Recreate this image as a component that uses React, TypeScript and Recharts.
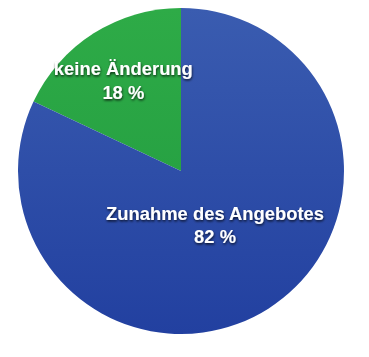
import React from 'react';
import { PieChart, Pie, Cell } from 'recharts';

const categories = ['keine Änderung', 'Zunahme des Angebotes'];
const shares = [18, 82];
const sliceColors = ['url(#greenFill)', 'url(#blueFill)'];
// how far out along the mid angle each label sits (fraction of radius)
const labelRadius = [0.66, 0.39];

const data = categories.map((name, i) => ({ name, value: shares[i] }));

const RADIAN = Math.PI / 180;

const renderLabel = (props: any) => {
  const { cx, cy, midAngle, outerRadius, index, name, value } = props;
  const r = outerRadius * labelRadius[index];
  const x = cx + r * Math.cos(-midAngle * RADIAN);
  const y = cy + r * Math.sin(-midAngle * RADIAN);
  return (
    <text
      x={x}
      y={y}
      fill="#ffffff"
      textAnchor="middle"
      fontFamily="'Liberation Sans', Arial, sans-serif"
      fontWeight="bold"
      fontSize={18.4}
      filter="url(#labelShadow)"
    >
      <tspan x={x} dy={-5}>{name}</tspan>
      <tspan x={x} dy={23.5}>{value} %</tspan>
    </text>
  );
};

export default function App() {
  return (
    <div style={{ position: 'absolute', left: 0, top: 0, background: '#fff' }}>
      <PieChart width={369} height={357} margin={{ top: 0, right: 0, bottom: 0, left: 0 }}>
        <defs>
          <linearGradient id="blueFill" x1="0" y1="0" x2="0" y2="1">
            <stop offset="0%" stopColor="#3a5cb0" />
            <stop offset="100%" stopColor="#2240a0" />
          </linearGradient>
          <linearGradient id="greenFill" x1="0" y1="0" x2="0" y2="1">
            <stop offset="0%" stopColor="#2eab47" />
            <stop offset="100%" stopColor="#27a243" />
          </linearGradient>
          <filter id="labelShadow" x="-20%" y="-40%" width="140%" height="180%">
            <feDropShadow dx="0.5" dy="1.5" stdDeviation="1.2" floodColor="#000" floodOpacity="0.75" />
          </filter>
        </defs>
        <Pie
          data={data}
          dataKey="value"
          nameKey="name"
          cx={181}
          cy={171}
          outerRadius={163}
          startAngle={90}
          endAngle={450}
          stroke="none"
          labelLine={false}
          label={renderLabel}
          isAnimationActive={false}
        >
          {data.map((entry, index) => (
            <Cell key={`cell-${index}`} fill={sliceColors[index]} />
          ))}
        </Pie>
      </PieChart>
    </div>
  );
}
